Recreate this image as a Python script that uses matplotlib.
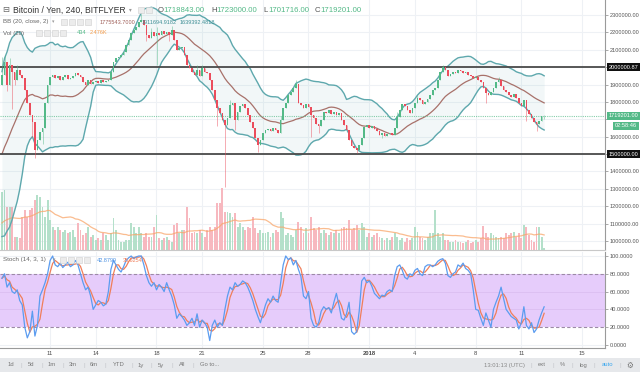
import numpy as np
import pandas as pd
import matplotlib
matplotlib.use("Agg")
import matplotlib.pyplot as plt
from matplotlib.transforms import blended_transform_factory
from matplotlib.patches import Rectangle

plt.rcParams['font.family'] = ['Liberation Sans', 'DejaVu Sans']

# ---------------- data (prices in thousand JPY) ----------------
warmup_close = [1230, 1250, 1270, 1240, 1260, 1280, 1270, 1260, 1280,
                1450, 1550, 1600, 1700, 1650, 1750, 1800, 1700, 1750, 1750]
warmup_volume = [20, 18, 22, 25, 20, 18, 15, 22, 25, 28,
                 30, 26, 24, 28, 30, 35, 32, 30, 36]
first_open = 1900
close_k = [
    1957, 2032, 1899, 2014, 1974, 1928, 1986, 1957, 1940, 1871,
    1796, 1727, 1686, 1525, 1583, 1629, 1652, 1796, 1899, 1945,
    1957, 1940, 1951, 1928, 1945, 1957, 1934, 1940, 1951, 1968,
    1957, 1945, 1917, 1899, 1928, 1905, 1917, 1922, 1911, 1928,
    1917, 1922, 1928, 1974, 2032, 2055, 2060, 2072, 2089, 2129,
    2158, 2199, 2216, 2233, 2262, 2273, 2245, 2187, 2170, 2204,
    2181, 2199, 2187, 2210, 2193, 2204, 2187, 2216, 2158, 2101,
    2112, 2118, 2072, 2014, 1997, 1974, 1957, 1986, 1951, 1997,
    1974, 1968, 1928, 1871, 1813, 1767, 1738, 1698, 1669, 1709,
    1784, 1796, 1698, 1744, 1778, 1790, 1767, 1727, 1686, 1652,
    1594, 1554, 1583, 1623, 1640, 1646, 1635, 1652, 1640, 1623,
    1698, 1767, 1796, 1842, 1859, 1882, 1905, 1796, 1784, 1767,
    1790, 1773, 1727, 1709, 1675, 1663, 1698, 1744, 1738, 1755,
    1732, 1744, 1727, 1738, 1698, 1669, 1640, 1583, 1548, 1537,
    1525, 1554, 1594, 1658, 1669, 1652, 1663, 1646, 1635, 1612,
    1623, 1606, 1617, 1623, 1612, 1652, 1715, 1755, 1790, 1778,
    1755, 1738, 1767, 1796, 1825, 1813, 1790, 1801, 1819, 1842,
    1871, 1882, 1928, 1974, 2003, 1986, 1951, 1963, 1974, 1968,
    1986, 1980, 1968, 1974, 1957, 1951, 1940, 1945, 1928, 1917,
    1882, 1853, 1842, 1859, 1882, 1917, 1928, 1894, 1871, 1859,
    1842, 1830, 1848, 1825, 1796, 1778, 1813, 1755, 1732, 1709,
    1686, 1675, 1692, 1718.843, 1719.201]
upper_wicks = {0: 2060, 1: 2070, 3: 2050, 6: 2010, 43: 1990, 55: 2305, 59: 2225,
               61: 2230, 67: 2235, 77: 2010, 79: 2015, 90: 1810, 110: 1720,
               116: 1925, 156: 1740, 164: 1840, 174: 2015, 196: 1945, 214: 1723.0}
lower_wicks = {2: 1860, 4: 1760, 5: 1900, 12: 1600, 13: 1480, 16: 1560, 57: 2150,
               61: 2010, 66: 2150, 85: 1660, 88: 1312, 92: 1640, 101: 1510,
               122: 1600, 125: 1620, 140: 1505, 150: 1590, 191: 1795, 207: 1690,
               211: 1635, 214: 1701.716}
volume = [
    58, 60, 43, 43, 43, 13, 13, 12, 33, 40,
    33, 40, 42, 50, 55, 53, 43, 33, 50, 30,
    23, 20, 23, 20, 18, 20, 17, 18, 20, 13,
    27, 20, 15, 17, 23, 13, 15, 10, 12, 10,
    17, 15, 10, 17, 32, 20, 10, 8, 8, 10,
    10, 27, 23, 17, 23, 17, 13, 17, 13, 13,
    23, 35, 12, 10, 12, 13, 10, 8, 25, 27,
    17, 20, 20, 43, 32, 17, 18, 17, 20, 17,
    13, 20, 23, 20, 23, 47, 47, 62, 38, 38,
    37, 33, 37, 23, 27, 23, 20, 23, 22, 33,
    22, 17, 20, 17, 17, 18, 13, 17, 20, 18,
    38, 32, 15, 17, 15, 13, 20, 28, 23, 17,
    22, 17, 33, 22, 20, 23, 17, 20, 17, 15,
    18, 17, 20, 17, 22, 23, 22, 30, 20, 22,
    25, 20, 27, 23, 13, 17, 13, 15, 17, 13,
    12, 10, 12, 10, 13, 17, 13, 10, 12, 8,
    12, 10, 12, 23, 18, 13, 12, 10, 13, 17,
    17, 40, 17, 13, 17, 10, 10, 8, 8, 10,
    8, 8, 7, 8, 10, 7, 8, 10, 8, 12,
    24, 17, 13, 17, 15, 13, 12, 13, 12, 17,
    15, 17, 18, 13, 17, 12, 25, 23, 15, 10,
    8, 23, 23, 13, 2]  # in units of ~165 BTC
stoch_k = [
    75, 80, 65, 70, 60, 58, 62, 50, 45, 20,
    8, 15, 38, 10, 22, 55, 62, 70, 80, 95,
    100, 90, 88, 92, 87, 90, 93, 88, 90, 95,
    90, 80, 70, 62, 65, 55, 40, 45, 50, 48,
    44, 46, 60, 85, 95, 90, 85, 82, 88, 95,
    98, 100, 97, 99, 100, 100, 90, 78, 70, 66,
    70, 62, 68, 65, 60, 70, 62, 55, 45, 30,
    35, 32, 28, 22, 25, 30, 22, 35, 20, 28,
    25, 20, 5, 22, 28, 20, 25, 22, 40, 55,
    65, 62, 70, 66, 68, 72, 70, 65, 58, 50,
    40, 32, 25, 35, 45, 52, 48, 55, 50, 48,
    70, 90, 100, 96, 98, 90, 95, 85, 77, 55,
    52, 60, 30, 22, 20, 25, 38, 43, 40, 42,
    36, 48, 58, 45, 30, 28, 35, 48, 15, 12,
    15, 38, 72, 76, 70, 72, 66, 58, 55, 52,
    56, 55, 60, 62, 60, 78, 88, 90, 84, 76,
    74, 80, 78, 84, 86, 80, 78, 88, 90, 90,
    88, 90, 94, 96, 97, 92, 78, 76, 80, 82,
    90, 88, 92, 86, 84, 80, 62, 40, 39, 30,
    22, 36, 28, 20, 40, 48, 55, 65, 52, 40,
    36, 32, 30, 28, 18, 25, 43, 22, 18, 25,
    14, 18, 28, 36, 42.8799]
day_ticks = [0, 3, 7, 10, 14, 17, 21, 24, 28, 31, 35]
day_labels = ["11", "14", "18", "21", "25", "28", "2018", "4", "8", "11", "15"]
price_ticks = [1000000, 1100000, 1200000, 1300000, 1400000, 1500000, 1600000,
               1700000, 1800000, 1900000, 2000000, 2100000, 2200000, 2300000]
level_lines = [2000000.87, 1500000.00]
last_price = 1719201.00
stoch_ticks = [0, 20, 40, 60, 80, 100]

# ---------------- derived ----------------
N = len(close_k)
t = -3.16 + np.arange(N) / 6.0
c = np.array(close_k) * 1000
o = np.r_[first_open * 1000, c[:-1]]
h = np.maximum(o, c)
l = np.minimum(o, c)
for k, v in upper_wicks.items():
    h[k] = max(h[k], v * 1000)
for k, v in lower_wicks.items():
    l[k] = min(l[k], v * 1000)
up = c >= o

wc = np.array(warmup_close) * 1000
allc = pd.Series(np.r_[wc, c])
mid = allc.rolling(20).mean().values[-N:]
sd = allc.rolling(20).std(ddof=0).values[-N:]
bb_up = mid + 2 * sd
bb_lo = mid - 2 * sd

K = np.array(stoch_k, dtype=float)
D = pd.Series(K).rolling(3, min_periods=1).mean().values

vol = np.array(volume, dtype=float)
allv = pd.Series(np.r_[np.array(warmup_volume, dtype=float), vol])
vol_ma = allv.rolling(20, min_periods=1).mean().values[-N:]

# ---------------- figure ----------------
W, H = 640, 372
fig = plt.figure(figsize=(6.4, 3.72), dpi=100)
fig.patch.set_facecolor('white')

def fx(x):
    return x / W

def fy(y):
    return 1 - y / H

XL = (-3.29, 36.51)
ax = fig.add_axes([0, fy(250), fx(605), 250 / H])
ax2 = fig.add_axes([0, fy(348), fx(605), (348 - 252) / H])

GREEN = '#53b987'
RED = '#eb4d5c'
GRID = '#eef1f5'

# price pane
ax.set_xlim(*XL)
ax.set_ylim(948200, 2386300)
for d in day_ticks:
    ax.axvline(d, color=GRID, lw=0.8, zorder=0)
for p in price_ticks:
    ax.axhline(p, color=GRID, lw=0.8, zorder=0)

vtrans = blended_transform_factory(ax.transData, ax.transAxes)
vcols = np.where(up, '#b4e0ca', '#f7b8bf')
ax.bar(t, vol / 250.0, width=0.75 / 6, bottom=0, color=vcols, lw=0,
       transform=vtrans, zorder=1)
ax.plot(t, vol_ma / 250.0, color='#f9a66a', lw=0.9, alpha=0.75,
        transform=vtrans, zorder=1.2)

ax.fill_between(t, bb_lo, bb_up, color='#5aa5ab', alpha=0.08, lw=0, zorder=1.5)
ax.plot(t, bb_up, color='#5ea8ad', lw=1.0, zorder=2)
ax.plot(t, bb_lo, color='#5ea8ad', lw=1.0, zorder=2)
ax.plot(t, mid, color='#a8716a', lw=0.9, zorder=2)

for lv in level_lines:
    ax.axhline(lv, color='#4a4a4a', lw=1.3, zorder=2.5)
ax.axhline(last_price, color=GREEN, lw=0.8, ls=(0, (1, 1)), alpha=0.7, zorder=2.5)

ccols = np.where(up, GREEN, RED)
ax.vlines(t, l, h, colors=ccols, lw=0.6, alpha=0.55, zorder=3)
body = np.maximum(np.abs(c - o), 2500)
ax.bar(t, body, bottom=np.minimum(o, c), width=0.11, color=ccols, lw=0, zorder=3.2)

ax.yaxis.tick_right()
ax.set_yticks(price_ticks)
labs = []
for p in price_ticks:
    if p in (1500000, 1700000, 2000000):
        labs.append('')
    else:
        labs.append('%.2f' % p)
ax.set_yticklabels(labs)
ax.tick_params(axis='y', length=2, width=0.6, color='#9a9a9a', pad=1.5,
               labelsize=4.1, labelcolor='#555555')
ax.tick_params(axis='x', bottom=False, labelbottom=False)
for s in ['top', 'left']:
    ax.spines[s].set_visible(False)
ax.spines['right'].set_color('#9a9a9a')
ax.spines['right'].set_linewidth(0.8)
ax.spines['bottom'].set_color('#c8c8c8')
ax.spines['bottom'].set_linewidth(0.8)

ytr = blended_transform_factory(ax.transAxes, ax.transData)
for lv, txt in [(2000000.87, '2000000.87'), (1500000.00, '1500000.00')]:
    ax.text(1.006, lv, txt, transform=ytr, fontsize=4.1, color='white',
            va='center', ha='left', clip_on=False,
            bbox=dict(boxstyle='square,pad=0.3', fc='#111111', ec='none'))
ax.text(1.006, last_price, '%.2f' % last_price, transform=ytr, fontsize=4.1,
        color='white', va='center', ha='left', clip_on=False,
        bbox=dict(boxstyle='square,pad=0.3', fc=GREEN, ec='none'))
fig.text(fx(637), fy(126), '02:58:46', fontsize=4.1, color='white',
         va='center', ha='right',
         bbox=dict(boxstyle='square,pad=0.3', fc=GREEN, ec='none'))

# stoch pane
ax2.set_xlim(*XL)
ax2.set_ylim(-3.4, 104.5)
for d in day_ticks:
    ax2.axvline(d, color=GRID, lw=0.8, zorder=0)
ax2.axhline(100, color=GRID, lw=0.8, zorder=0)
ax2.axhline(0, color=GRID, lw=0.8, zorder=0)
ax2.axhspan(20, 80, color='#e6ccfb', lw=0, zorder=0.5)
for v in (40, 60):
    ax2.axhline(v, color='#dcc0f2', lw=0.7, zorder=0.6)
for v in (20, 80):
    ax2.axhline(v, color='#9c8aa6', lw=0.8, ls=(0, (3, 2)), zorder=0.7)
ax2.plot(t, D, color='#f07e5a', lw=0.9, zorder=2)
ax2.plot(t, K, color='#5b9cf0', lw=0.9, zorder=2.2)
ax2.yaxis.tick_right()
ax2.set_yticks(stoch_ticks)
ax2.set_yticklabels(['%.4f' % v for v in stoch_ticks])
ax2.tick_params(axis='y', length=2, width=0.6, color='#9a9a9a', pad=1.5,
                labelsize=4.1, labelcolor='#555555')
ax2.set_xticks(day_ticks)
ax2.set_xticklabels(day_labels)
ax2.tick_params(axis='x', length=0, pad=2, labelsize=4.2, labelcolor='#4a4a4a')
for lab in ax2.get_xticklabels():
    if lab.get_text() == '2018':
        lab.set_fontweight('bold')
ax2.spines['top'].set_visible(False)
ax2.spines['left'].set_visible(False)
ax2.spines['right'].set_color('#9a9a9a')
ax2.spines['right'].set_linewidth(0.8)
ax2.spines['bottom'].set_color('#9a9a9a')
ax2.spines['bottom'].set_linewidth(0.8)

# ---------------- header texts ----------------
def icons(x0, n, y, step=8):
    for i in range(n):
        fig.patches.append(Rectangle((fx(x0 + i * step), fy(y + 3)), fx(6), 6 / H,
                                     transform=fig.transFigure, fc='#ececec',
                                     ec='#cfcfcf', lw=0.4, zorder=5))

fig.text(fx(2), fy(10), '\u229f', fontsize=6, color='#666666', va='center',
         family=['DejaVu Sans'])
fig.text(fx(13), fy(10), 'Bitcoin / Yen, 240, BITFLYER', fontsize=6.2,
         color='#333333', va='center')
fig.text(fx(129), fy(10), '\u25be', fontsize=4, color='#999999', va='center',
         family=['DejaVu Sans'])
icons(138, 2, 10)
for xx, lab, val in [(158, 'O', '1718843.00'), (211, 'H', '1723000.00'),
                     (263, 'L', '1701716.00'), (315, 'C', '1719201.00')]:
    fig.text(fx(xx), fy(10), lab, fontsize=5.6, color='#555555', va='center')
    fig.text(fx(xx + 5), fy(10), val, fontsize=5.6, color=GREEN, va='center')

fig.text(fx(3), fy(22), 'BB (20, close, 2)', fontsize=4.4, color='#666666', va='center')
fig.text(fx(52), fy(22), '\u25be', fontsize=3.5, color='#999999', va='center',
         family=['DejaVu Sans'])
icons(61, 4, 22)
fig.text(fx(100), fy(22), '1775543.7000', fontsize=4.0, color='#a0605a', va='center')
fig.text(fx(142), fy(22), '1911694.9182', fontsize=4.0, color='#3f8f96', va='center')
fig.text(fx(180), fy(22), '1639392.4818', fontsize=4.0, color='#3f8f96', va='center')

fig.text(fx(3), fy(33), 'Vol (20)', fontsize=4.4, color='#666666', va='center')
icons(36, 4, 33)
fig.text(fx(77), fy(33), '434', fontsize=4.0, color=GREEN, va='center')
fig.text(fx(90), fy(33), '2.476K', fontsize=4.0, color='#f39c4a', va='center')

fig.text(fx(3), fy(260), 'Stoch (14, 3, 1)', fontsize=4.5, color='#666666', va='center')
fig.text(fx(53), fy(260), '\u25be', fontsize=3.5, color='#999999', va='center',
         family=['DejaVu Sans'])
icons(60, 4, 260)
fig.text(fx(97), fy(260), '42.8799', fontsize=4.0, color='#4a90e2', va='center')
fig.text(fx(123), fy(260), '35.6254', fontsize=4.0, color='#f07e5a', va='center')

# ---------------- bottom bar ----------------
fig.patches.append(Rectangle((0, 0), 1, 14 / H, transform=fig.transFigure,
                             fc='#e6e8eb', ec='none', zorder=0))
by = fy(365)
for xx, s in [(11, '1d'), (31, '5d'), (52, '1m'), (73, '3m'), (94, '6m'),
              (119, 'YTD'), (141, '1y'), (161, '5y'), (182, 'All'), (210, 'Go to...')]:
    fig.text(fx(xx), by, s, fontsize=4.2, color='#777777', ha='center', va='center')
for xx in [21, 42, 63, 84, 105, 132, 151, 172, 193]:
    fig.text(fx(xx), by, '|', fontsize=4.5, color='#c4c6ca', ha='center', va='center')
for xx, s, col in [(504, '13:01:13 (UTC)', '#888888'), (542, 'ext', '#777777'),
                   (562, '%', '#777777'), (583, 'log', '#777777'),
                   (607, 'auto', '#37a6ef')]:
    fig.text(fx(xx), by, s, fontsize=4.2, color=col, ha='center', va='center')
for xx in [531, 553, 572, 594, 620]:
    fig.text(fx(xx), by, '|', fontsize=4.5, color='#c4c6ca', ha='center', va='center')
fig.text(fx(630), by, '\u2699', fontsize=5.5, color='#777777', ha='center',
         va='center', family=['DejaVu Sans'])

fig.savefig('out.png', dpi=100)
